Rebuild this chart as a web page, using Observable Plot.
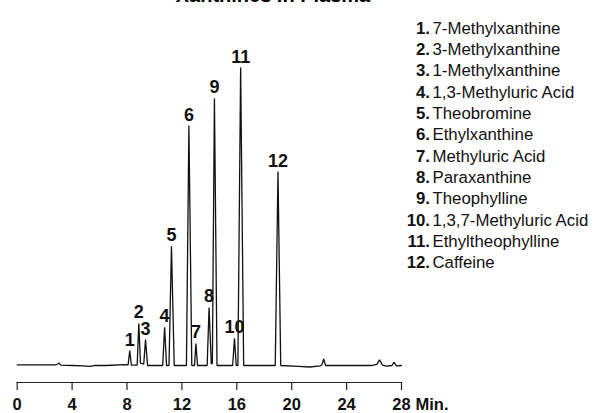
<!DOCTYPE html>
<html>
<head>
<meta charset="utf-8">
<script src="https://cdn.jsdelivr.net/npm/d3@7"></script>
<script src="https://cdn.jsdelivr.net/npm/@observablehq/plot@0.6"></script>
<style>
  html, body { margin: 0; padding: 0; background: #fff; }
  #wrap { position: relative; width: 594px; height: 413px; overflow: hidden; font-family: "Liberation Sans", Arial, sans-serif; }
  #title { position: absolute; left: 0; width: 546px; top: -15px; text-align: center; font-size: 20px; line-height: 20px; font-weight: bold; color: #000; }
  #chart { position: absolute; left: 0; top: 0; }
  #legend { position: absolute; left: 0; top: 17.5px; font-size: 16.8px; line-height: 21.35px; color: #111; }
  #legend .row { display: flex; white-space: nowrap; }
  #legend .num { width: 430px; text-align: right; font-weight: bold; }
  #legend .name { margin-left: 2.5px; }
</style>
</head>
<body>
<div id="wrap">
  <div id="chart"></div>
  <div id="title">Xanthines in Plasma</div>
  <div id="legend"></div>
</div>
<script>
// Chromatogram trace (retention time in minutes, relative signal in % of the largest peak)
const traceTime = [0, 2.8, 2.95, 3.05, 3.2, 4.0, 4.8, 5.3, 5.6, 6.5, 7.8,
  8.08, 8.2, 8.32, 8.74, 8.86, 8.98, 9.22, 9.35, 9.5,
  10.6, 10.74, 10.88, 11.06, 11.24, 11.44, 12.33, 12.51, 12.72,
  12.92, 13.02, 13.14, 13.84, 13.98, 14.14, 14.22, 14.37, 14.56,
  15.70, 15.83, 15.96, 16.08, 16.28, 16.5, 18.8, 19.0, 19.2,
  20.5, 21.3, 22.1, 22.2, 22.33, 22.47, 25.8, 26.2, 26.4, 26.62, 26.9, 27.3, 27.46, 27.62, 28];
const traceSignal = [0.2, 0.2, 0.5, 0.8, 0.1, 0, -0.1, -0.3, 0, 0, 0.3,
  0.2, 5.0, 0.1, 0.1, 14.1, 0.8, 0.5, 8.7, 0,
  0, 12.8, 0, 0, 40.0, 0, 0, 80.5, 0,
  0, 7.4, 0, 0, 19.5, 0.5, 0.8, 89.6, 0,
  0, 9.1, 0, 0, 100, 0, 0, 65.1, 0,
  -0.3, -0.5, -0.1, 0.2, 2.2, 0, 0, 0.4, 1.9, 0.1, -0.2, 0, 1.1, -0.1, 0];

// Numbered peaks
const peakNumber = [1, 2, 3, 4, 5, 6, 7, 8, 9, 10, 11, 12];
const peakTime   = [8.2, 8.86, 9.35, 10.74, 11.24, 12.51, 13.02, 13.98, 14.37, 15.83, 16.28, 19.0];
const peakHeight = [5.0, 14.1, 8.7, 12.8, 40.0, 80.5, 7.4, 19.5, 89.6, 9.1, 100, 65.1];
const compoundName = ["7-Methylxanthine", "3-Methylxanthine", "1-Methylxanthine",
  "1,3-Methyluric Acid", "Theobromine", "Ethylxanthine", "Methyluric Acid",
  "Paraxanthine", "Theophylline", "1,3,7-Methyluric Acid", "Ethyltheophylline", "Caffeine"];

// Axis ticks
const xTicks = [0, 4, 8, 12, 16, 20, 24, 28];
const xUnit = "Min.";

const trace = traceTime.map((t, i) => ({t, s: traceSignal[i]}));
const peaks = peakNumber.map((n, i) => ({n, t: peakTime[i], h: peakHeight[i]}));

const boldFont = `"Liberation Sans", Arial, sans-serif`;

const chart = Plot.plot({
  width: 594,
  height: 413,
  marginLeft: 16.7,
  marginRight: 193,
  marginTop: 67,
  marginBottom: 31,
  style: {background: "transparent", color: "#111"},
  x: {domain: [0, 28], axis: null},
  y: {domain: [-5.7, 100], axis: null},
  marks: [
    Plot.frame({anchor: "bottom", stroke: "#222", strokeWidth: 1.2}),
    Plot.axisX({
      ticks: xTicks,
      tickSize: 8,
      tickPadding: 7.5,
      stroke: "#222",
      strokeWidth: 1.2,
      tickFormat: d => String(d),
      fontSize: 16.5,
      fontWeight: "bold",
      fontFamily: boldFont,
      fill: "#111",
      label: null
    }),
    Plot.text([xUnit], {
      x: [28], frameAnchor: "bottom", dx: 14, dy: 15.5,
      textAnchor: "start", lineAnchor: "top",
      fontSize: 16.5, fontWeight: "bold", fontFamily: boldFont, fill: "#111"
    }),
    Plot.line(trace, {x: "t", y: "s", stroke: "#111", strokeWidth: 1.3, strokeLinejoin: "miter", curve: "linear"}),
    Plot.text(peaks, {
      x: "t", y: "h", text: d => String(d.n),
      dy: -5, lineAnchor: "bottom",
      fontSize: 18, fontWeight: "bold", fontFamily: boldFont, fill: "#111"
    })
  ]
});
document.getElementById("chart").appendChild(chart);

const legend = document.getElementById("legend");
peakNumber.forEach((n, i) => {
  const row = document.createElement("div");
  row.className = "row";
  const num = document.createElement("span");
  num.className = "num";
  num.textContent = n + ".";
  const name = document.createElement("span");
  name.className = "name";
  name.textContent = compoundName[i];
  row.appendChild(num);
  row.appendChild(name);
  legend.appendChild(row);
});
</script>
</body>
</html>
